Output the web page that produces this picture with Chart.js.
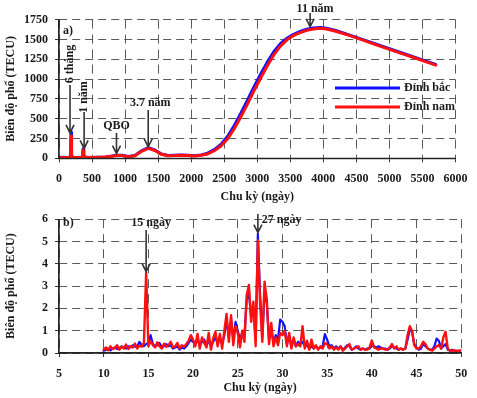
<!DOCTYPE html>
<html>
<head>
<meta charset="utf-8">
<script src="https://cdn.jsdelivr.net/npm/chart.js@4/dist/chart.umd.min.js"></script>
<style>
  html, body { margin: 0; padding: 0; background: #fff; }
  #wrap { position: relative; width: 477px; height: 398px; }
  #topChart { position: absolute; left: 0; top: 0; }
  #botChart { position: absolute; left: 0; top: 205px; }
</style>
</head>
<body>
<div id="wrap">
  <canvas id="topChart" width="477" height="205"></canvas>
  <canvas id="botChart" width="477" height="193"></canvas>
</div>
<script>
// ---- (a) long-period spectrum, period in days ----
const longPeriods = [0, 60, 120, 160, 175, 182, 190, 220, 280, 340, 355, 365, 375, 420, 500, 600, 700, 800, 870, 950,
  1050, 1150, 1250, 1350, 1450, 1550, 1650, 1750, 1850, 1950, 2050, 2150, 2250, 2350, 2450, 2550, 2650, 2750, 2850, 2950,
  3050, 3150, 3250, 3350, 3450, 3550, 3650, 3750, 3850, 3950, 4050, 4200, 4400, 4600, 4800, 5000, 5200, 5400, 5600, 5700];
const longNorth = [10, 12, 10, 14, 40, 330, 30, 12, 10, 14, 30, 120, 25, 12, 10, 14, 18, 28, 40, 38,
  22, 35, 95, 135, 105, 55, 35, 38, 42, 38, 32, 42, 65, 110, 175, 275, 410, 565, 730, 900,
  1060, 1210, 1345, 1445, 1515, 1565, 1600, 1628, 1645, 1650, 1640, 1610, 1555, 1497, 1440, 1383, 1326, 1270, 1213, 1185];
const longSouth = [8, 10, 8, 12, 30, 280, 25, 10, 9, 12, 26, 105, 22, 10, 9, 12, 16, 25, 35, 34,
  20, 32, 88, 125, 98, 50, 32, 35, 40, 36, 30, 38, 55, 95, 155, 245, 370, 520, 680, 850,
  1010, 1165, 1305, 1415, 1495, 1550, 1585, 1615, 1630, 1640, 1632, 1600, 1548, 1490, 1432, 1375, 1318, 1262, 1205, 1175];

// ---- (b) short-period spectrum, 10 to 50 days every 0.25 day ----
const shortPeriods = Array.from({ length: 161 }, (_, i) => 10 + i * 0.25);
const shortNorth = [
  0.1, 0.15, 0.2, 0.12, 0.2, 0.25, 0.18, 0.22, 0.3, 0.25, 0.2, 0.3, 0.25, 0.35, 0.28, 0.3, 0.5, 0.35, 0.3, 0.4,
  0.45, 0.8, 0.4, 0.3, 0.35, 0.45, 0.25, 0.3, 0.4, 0.3, 0.35, 0.2, 0.25, 0.3, 0.15, 0.25, 0.2, 0.3, 0.45, 0.6,
  0.5, 0.4, 0.6, 0.35, 0.5, 0.6, 0.3, 0.6, 0.3, 0.5, 0.7, 0.45, 0.6, 0.4, 0.8, 1.5, 0.7, 1.5, 0.6, 1.4,
  1.0, 0.6, 0.9, 0.8, 2.4, 2.7, 1.6, 2.0, 0.6, 5.35, 2.6, 0.7, 2.8, 2.2, 0.6, 1.0, 0.5, 0.8, 0.6, 1.5,
  1.4, 1.2, 0.4, 0.8, 0.3, 0.6, 0.3, 0.5, 0.4, 0.5, 0.3, 0.35, 0.2, 0.3, 0.2, 0.3, 0.2, 0.25, 0.3, 0.85,
  0.6, 0.3, 0.35, 0.2, 0.3, 0.2, 0.3, 0.15, 0.25, 0.35, 0.3, 0.15, 0.2, 0.3, 0.2, 0.15, 0.2, 0.15, 0.2, 0.2,
  0.35, 0.3, 0.25, 0.3, 0.25, 0.2, 0.2, 0.15, 0.2, 0.3, 0.25, 0.2, 0.15, 0.2, 0.15, 0.2, 0.6, 1.05, 0.95, 0.4,
  0.25, 0.15, 0.2, 0.4, 0.3, 0.2, 0.15, 0.15, 0.3, 0.65, 0.55, 0.2, 0.3, 0.4, 0.15, 0.1, 0.15, 0.1, 0.08, 0.1,
  0.1];
const shortSouth = [
  0.15, 0.25, 0.12, 0.3, 0.18, 0.22, 0.35, 0.15, 0.28, 0.2, 0.38, 0.18, 0.3, 0.25, 0.42, 0.2, 0.33, 0.28, 0.45, 3.6,
  0.3, 0.55, 0.35, 0.25, 0.48, 0.3, 0.2, 0.42, 0.28, 0.35, 0.5, 0.25, 0.3, 0.45, 0.2, 0.35, 0.28, 0.4, 0.55, 0.8,
  0.6, 0.3, 0.85, 0.2, 0.7, 0.45, 0.25, 0.9, 0.15, 0.65, 0.95, 0.3, 0.85, 0.2, 1.0, 1.75, 0.5, 1.7, 0.35, 1.2,
  0.9, 0.25, 1.0, 0.5, 2.6, 3.05, 1.4, 2.3, 0.3, 5.05, 2.2, 0.5, 3.2, 2.4, 0.4, 1.35, 0.3, 0.7, 0.35, 0.9,
  0.8, 1.0, 0.3, 0.9, 0.2, 0.7, 0.3, 0.4, 0.3, 1.2, 0.2, 0.55, 0.15, 0.6, 0.2, 0.35, 0.15, 0.3, 0.2, 0.45,
  0.4, 0.2, 0.3, 0.15, 0.25, 0.15, 0.3, 0.1, 0.2, 0.3, 0.4, 0.15, 0.2, 0.25, 0.3, 0.15, 0.2, 0.15, 0.15, 0.25,
  0.55, 0.25, 0.2, 0.15, 0.2, 0.2, 0.15, 0.15, 0.25, 0.4, 0.2, 0.3, 0.15, 0.2, 0.15, 0.2, 0.8, 1.2, 1.0, 0.35,
  0.2, 0.2, 0.3, 0.5, 0.4, 0.2, 0.15, 0.1, 0.2, 0.3, 0.35, 0.2, 0.7, 0.95, 0.2, 0.1, 0.1, 0.12, 0.1, 0.1,
  0.12];

const seriesNames = ['Đỉnh bắc', 'Đỉnh nam'];
const xTitle = 'Chu kỳ (ngày)';
const yTitle = 'Biên độ phổ (TECU)';

const BLUE = '#1010ff';
const RED = '#ff1010';
const INK = '#1a1a1a';
const FONT = '"Liberation Serif", "Times New Roman", serif';

const toXY = (xs, ys) => xs.map((x, i) => ({ x, y: ys[i] }));

function arrowDown(ctx, x, yFrom, yTip) {
  ctx.save();
  ctx.strokeStyle = '#333';
  ctx.lineWidth = 1.6;
  ctx.beginPath();
  ctx.moveTo(x, yFrom);
  ctx.lineTo(x, yTip);
  ctx.moveTo(x - 4, yTip - 8);
  ctx.lineTo(x, yTip);
  ctx.lineTo(x + 4, yTip - 8);
  ctx.stroke();
  ctx.restore();
}

function label(ctx, text, x, y, align, rotate) {
  ctx.save();
  ctx.fillStyle = INK;
  ctx.font = 'bold 12px ' + FONT;
  ctx.textBaseline = 'middle';
  ctx.textAlign = align || 'center';
  ctx.translate(x, y);
  if (rotate) ctx.rotate(-Math.PI / 2);
  ctx.fillText(text, 0, 0);
  ctx.restore();
}

function axisSet(xMin, xMax, xStep, yMin, yMax, yStep, xHeight, titlePadBottom, xTickPad) {
  const grid = { color: '#5a5a5a', lineWidth: 1, tickLength: 4, drawTicks: true, tickColor: '#333' };
  const tickFont = { family: FONT, size: 12, weight: 'bold' };
  return {
    x: {
      type: 'linear', min: xMin, max: xMax,
      ticks: { stepSize: xStep, padding: xTickPad, color: INK, font: tickFont, callback: (v) => String(v) },
      grid: grid,
      border: { display: true, color: '#333', width: 1.2, dash: [9, 6] },
      title: { display: true, text: xTitle, color: INK, font: tickFont, padding: { top: 0, bottom: titlePadBottom } },
      afterFit: (s) => { s.height = xHeight; }
    },
    y: {
      min: yMin, max: yMax,
      ticks: { stepSize: yStep, padding: 7, color: INK, font: tickFont, callback: (v) => String(v) },
      grid: grid,
      border: { display: true, color: '#333', width: 1.2, dash: [8, 5] },
      title: { display: true, text: yTitle, color: INK, font: tickFont, padding: { top: 4, bottom: 0 } },
      afterFit: (s) => { s.width = 59; }
    }
  };
}

// solid axis lines on the left and bottom edges
const axisLines = {
  id: 'axisLines',
  afterDraw(chart) {
    const { ctx, chartArea: a } = chart;
    ctx.save();
    ctx.strokeStyle = '#222';
    ctx.lineWidth = 1.3;
    ctx.beginPath();
    ctx.moveTo(a.left, a.top);
    ctx.lineTo(a.left, a.bottom);
    ctx.lineTo(a.right, a.bottom);
    ctx.stroke();
    ctx.restore();
  }
};

const topNotes = {
  id: 'topNotes',
  afterDatasetsDraw(chart) {
    const { ctx, scales: { x, y } } = chart;
    label(ctx, 'a)', 63, 31, 'left');
    const x6 = x.getPixelForValue(182);
    label(ctx, '6 tháng', x6 - 1, 64, 'center', true);
    arrowDown(ctx, x6 - 1, 85, y.getPixelForValue(320));
    const x1 = x.getPixelForValue(365);
    label(ctx, '1 năm', x1 + 1, 97, 'center', true);
    arrowDown(ctx, x1 + 1, 112, y.getPixelForValue(125));
    const xq = x.getPixelForValue(870);
    label(ctx, 'QBO', xq, 126);
    arrowDown(ctx, xq, 133, y.getPixelForValue(60));
    const x37 = x.getPixelForValue(1350);
    label(ctx, '3.7 năm', x37 + 2, 103);
    arrowDown(ctx, x37, 110, y.getPixelForValue(145));
    const x11 = x.getPixelForValue(3800);
    label(ctx, '11 năm', x11 + 5, 9);
    arrowDown(ctx, x11, 13, y.getPixelForValue(1660));

    // legend
    ctx.save();
    ctx.lineWidth = 3;
    ctx.strokeStyle = BLUE;
    ctx.beginPath(); ctx.moveTo(335, 88); ctx.lineTo(400, 88); ctx.stroke();
    ctx.strokeStyle = RED;
    ctx.beginPath(); ctx.moveTo(335, 107); ctx.lineTo(400, 107); ctx.stroke();
    ctx.restore();
    label(ctx, seriesNames[0], 404, 88, 'left');
    label(ctx, seriesNames[1], 404, 107, 'left');
  }
};

const botNotes = {
  id: 'botNotes',
  afterDatasetsDraw(chart) {
    const { ctx, scales: { x, y } } = chart;
    label(ctx, 'b)', 63, 18, 'left');
    const x15 = x.getPixelForValue(14.75);
    label(ctx, '15 ngày', x15 + 5, 18);
    arrowDown(ctx, x15, 25, y.getPixelForValue(3.65));
    const x27 = x.getPixelForValue(27.25);
    label(ctx, '27 ngày', x27 + 4, 15, 'left');
    arrowDown(ctx, x27, 9, y.getPixelForValue(5.4));
  }
};

const common = {
  responsive: false,
  devicePixelRatio: 1,
  animation: false,
  plugins: { legend: { display: false }, tooltip: { enabled: false } },
  elements: { point: { radius: 0 }, line: { tension: 0, borderJoinStyle: 'round', borderCapStyle: 'round' } }
};

// southern crest (red) is painted over the northern one (blue)
new Chart(document.getElementById('topChart'), {
  type: 'line',
  data: {
    datasets: [
      { label: seriesNames[0], data: toXY(longPeriods, longNorth), borderColor: BLUE, borderWidth: 3, order: 2 },
      { label: seriesNames[1], data: toXY(longPeriods, longSouth), borderColor: RED, borderWidth: 3, order: 1 }
    ]
  },
  options: Object.assign({}, common, {
    layout: { padding: { top: 19.6, right: 14, left: 0, bottom: 0 } },
    scales: axisSet(0, 6000, 500, 0, 1750, 250, 46.7, 0.8, 9.5)
  }),
  plugins: [axisLines, topNotes]
});

new Chart(document.getElementById('botChart'), {
  type: 'line',
  data: {
    datasets: [
      { label: seriesNames[0], data: toXY(shortPeriods, shortNorth), borderColor: BLUE, borderWidth: 2.2, order: 2 },
      { label: seriesNames[1], data: toXY(shortPeriods, shortSouth), borderColor: RED, borderWidth: 2.4, order: 1 }
    ]
  },
  options: Object.assign({}, common, {
    layout: { padding: { top: 9, right: 13, left: 0, bottom: 0 } },
    scales: axisSet(5, 50, 5, 0, 6, 1, 45, 2.8, 9.8)
  }),
  plugins: [axisLines, botNotes]
});
</script>
</body>
</html>
